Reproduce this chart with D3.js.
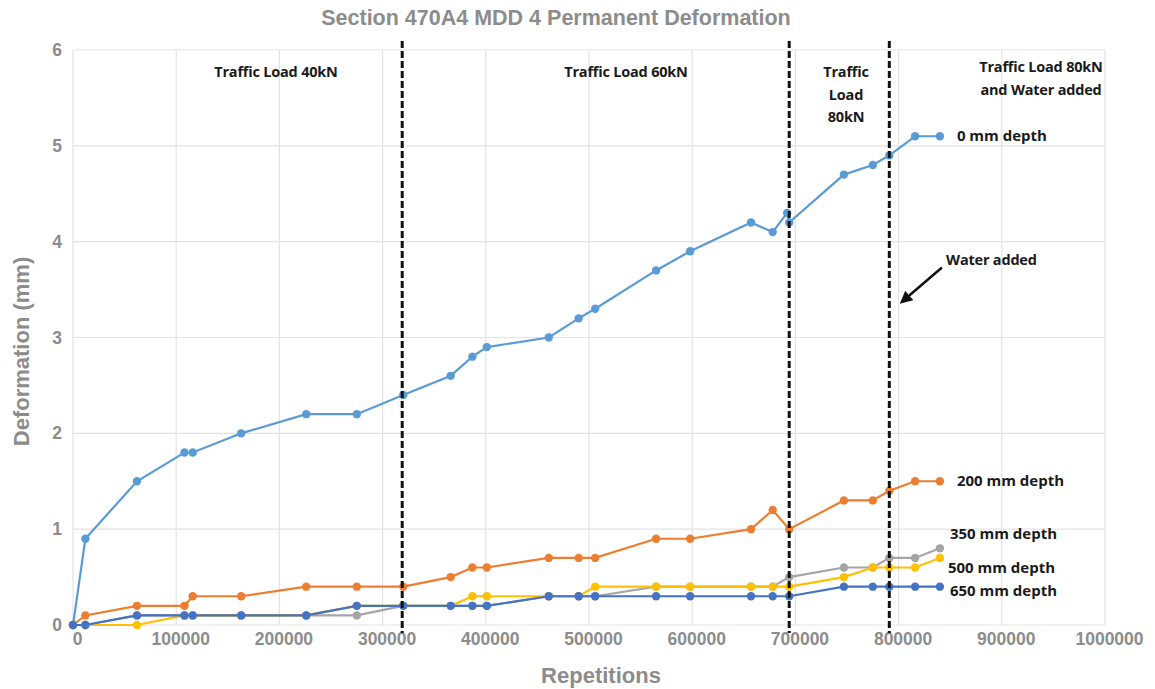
<!DOCTYPE html>
<html>
<head>
<meta charset="utf-8">
<script src="https://cdn.jsdelivr.net/npm/d3@7"></script>
<style>
  html, body { margin: 0; padding: 0; background: #ffffff; }
  svg { display: block; }
</style>
</head>
<body>
<svg id="chart" width="1155" height="689"></svg>
<script>
// Load repetitions at each reading (shared by all depths)
const repetitions = [0, 12000, 62000, 108000, 116000, 163000, 226000, 275000, 320000, 366000, 387000, 401000,
  461000, 490000, 506000, 565000, 598000, 657000, 678000, 692000, 694000, 747000, 775000, 791000, 816000, 840000];

// Permanent deformation (mm) per depth; null = no reading
const depth0 = [0, 0.9, 1.5, 1.8, 1.8, 2.0, 2.2, 2.2, 2.4, 2.6, 2.8, 2.9, 3.0, 3.2, 3.3, 3.7, 3.9, 4.2, 4.1, 4.3, 4.2, 4.7, 4.8, 4.9, 5.1, 5.1];
const depth200 = [0, 0.1, 0.2, 0.2, 0.3, 0.3, 0.4, 0.4, 0.4, 0.5, 0.6, 0.6, 0.7, 0.7, 0.7, 0.9, 0.9, 1.0, 1.2, null, 1.0, 1.3, 1.3, 1.4, 1.5, 1.5];
const depth350 = [0, 0, 0.1, 0.1, 0.1, 0.1, 0.1, 0.1, 0.2, 0.2, 0.2, 0.2, 0.3, 0.3, 0.3, 0.4, 0.4, 0.4, 0.4, null, 0.5, 0.6, 0.6, 0.7, 0.7, 0.8];
const depth500 = [0, 0, 0, 0.1, 0.1, 0.1, 0.1, 0.2, 0.2, 0.2, 0.3, 0.3, 0.3, 0.3, 0.4, 0.4, 0.4, 0.4, 0.4, null, 0.4, 0.5, 0.6, 0.6, 0.6, 0.7];
const depth650 = [0, 0, 0.1, 0.1, 0.1, 0.1, 0.1, 0.2, 0.2, 0.2, 0.2, 0.2, 0.3, 0.3, 0.3, 0.3, 0.3, 0.3, 0.3, null, 0.3, 0.4, 0.4, 0.4, 0.4, 0.4];

const seriesNames = ["0 mm depth", "200 mm depth", "350 mm depth", "500 mm depth", "650 mm depth"];
const seriesColors = ["#5b9bd5", "#ed7d31", "#a5a5a5", "#ffc000", "#4472c4"];
const seriesValues = [depth0, depth200, depth350, depth500, depth650];

// Load stage boundaries (repetitions)
const stageBreaks = [319000, 694000, 791000];
const xTicks = [0, 100000, 200000, 300000, 400000, 500000, 600000, 700000, 800000, 900000, 1000000];
const yTicks = [0, 1, 2, 3, 4, 5, 6];

const svg = d3.select("#chart");
const margin = { left: 73, right: 50, top: 50, bottom: 64 };
const W = 1155, H = 689;

const x = d3.scaleLinear().domain([0, 1000000]).range([margin.left, W - margin.right]);
const y = d3.scaleLinear().domain([0, 6]).range([H - margin.bottom, margin.top]);

// Gridlines
const grid = svg.append("g");
grid.selectAll("line.v").data(xTicks).join("line")
  .attr("x1", d => x(d)).attr("x2", d => x(d))
  .attr("y1", y(6)).attr("y2", y(0))
  .attr("stroke", "#e3e3e3").attr("stroke-width", 1.2);
grid.selectAll("line.h").data(yTicks).join("line")
  .attr("x1", x(0)).attr("x2", x(1000000))
  .attr("y1", d => y(d)).attr("y2", d => y(d))
  .attr("stroke", "#e3e3e3").attr("stroke-width", 1.2);

// Axes (labels only)
const tickFont = "'Liberation Sans', Arial, sans-serif";
const xAxis = svg.append("g").attr("transform", `translate(0,${y(0)})`)
  .call(d3.axisBottom(x).tickValues(xTicks).tickFormat(d3.format("d")).tickSize(0).tickPadding(8));
const yAxis = svg.append("g").attr("transform", `translate(${x(0)},0)`)
  .call(d3.axisLeft(y).tickValues(yTicks).tickFormat(d3.format("d")).tickSize(0).tickPadding(11));
[xAxis, yAxis].forEach(a => {
  a.select(".domain").remove();
  a.selectAll("text").attr("fill", "#8c8c8c").attr("font-family", tickFont)
    .attr("font-weight", "bold").attr("font-size", 17.5);
});
xAxis.selectAll("text").attr("dx", 4);

// Series lines and markers
const line = d3.line()
  .defined(d => d.v !== null)
  .x(d => x(d.r)).y(d => y(d.v));

seriesValues.forEach((vals, i) => {
  const pts = repetitions.map((r, j) => ({ r, v: vals[j] })).filter(p => p.v !== null);
  const g = svg.append("g");
  g.append("path").datum(pts)
    .attr("d", line).attr("fill", "none")
    .attr("stroke", seriesColors[i]).attr("stroke-width", 2.2);
  g.selectAll("circle").data(pts).join("circle")
    .attr("cx", d => x(d.r)).attr("cy", d => y(d.v)).attr("r", 4.2)
    .attr("fill", seriesColors[i]);
});

// Stage boundaries
svg.selectAll("line.stage").data(stageBreaks).join("line")
  .attr("x1", d => x(d)).attr("x2", d => x(d))
  .attr("y1", y(6) - 9).attr("y2", y(0) + 8)
  .attr("stroke", "#111").attr("stroke-width", 3)
  .attr("stroke-dasharray", "7,3");

// Title and axis titles
const titleFont = "'Liberation Sans', Arial, sans-serif";
svg.append("text").attr("x", 556).attr("y", 25).attr("text-anchor", "middle")
  .attr("font-family", titleFont).attr("font-weight", "bold").attr("font-size", 21.5)
  .attr("fill", "#8c8c8c").text("Section 470A4 MDD 4 Permanent Deformation");
svg.append("text").attr("x", (x(0) + x(1000000)) / 2 + 12).attr("y", 683).attr("text-anchor", "middle")
  .attr("font-family", titleFont).attr("font-weight", "bold").attr("font-size", 22)
  .attr("fill", "#8c8c8c").text("Repetitions");
svg.append("text").attr("transform", `translate(29,${(y(0) + y(6)) / 2 + 14}) rotate(-90)`)
  .attr("text-anchor", "middle")
  .attr("font-family", titleFont).attr("font-weight", "bold").attr("font-size", 22)
  .attr("fill", "#8c8c8c").text("Deformation (mm)");

// Stage annotations
const noteFont = "'Open Sans', 'Noto Sans', sans-serif";
function note(lines, cx, cy, size, anchor) {
  const t = svg.append("text").attr("x", cx).attr("y", cy)
    .attr("text-anchor", anchor || "middle")
    .attr("font-family", noteFont).attr("font-weight", "bold").attr("font-size", size)
    .attr("fill", "#1a1a1a").attr("letter-spacing", -0.2);
  lines.forEach((s, k) => t.append("tspan").attr("x", cx).attr("dy", k === 0 ? 0 : 22.5).text(s));
}
note(["Traffic Load 40kN"], 276, 77, 14.5);
note(["Traffic Load 60kN"], 626, 77, 14.5);
note(["Traffic", "Load", "80kN"], 846, 77, 14.5);
note(["Traffic Load 80kN", "and Water added"], 1041, 72, 14.5);

// Series labels at the end of each line
const endLabels = [
  { name: seriesNames[0], v: 5.1, dx: 17 },
  { name: seriesNames[1], v: 1.5, dx: 17 },
  { name: seriesNames[2], v: 0.95, dx: 10 },
  { name: seriesNames[3], v: 0.6, dx: 8 },
  { name: seriesNames[4], v: 0.35, dx: 10 }
];
const lastRep = repetitions[repetitions.length - 1];
endLabels.forEach(d => {
  svg.append("text").attr("x", x(lastRep) + d.dx).attr("y", y(d.v) + 5)
    .attr("font-family", noteFont).attr("font-weight", "bold").attr("font-size", 15)
    .attr("fill", "#1a1a1a").text(d.name);
});

// Water added callout
svg.append("defs").append("marker").attr("id", "arrowhead")
  .attr("viewBox", "0 0 10 10").attr("refX", 8).attr("refY", 5)
  .attr("markerWidth", 5).attr("markerHeight", 5).attr("orient", "auto")
  .append("path").attr("d", "M0,0 L10,5 L0,10 z").attr("fill", "#111");
svg.append("line")
  .attr("x1", x(842000)).attr("y1", y(3.73))
  .attr("x2", x(803000)).attr("y2", y(3.37))
  .attr("stroke", "#111").attr("stroke-width", 2.5)
  .attr("marker-end", "url(#arrowhead)");
svg.append("text").attr("x", x(846000)).attr("y", y(3.76))
  .attr("font-family", noteFont).attr("font-weight", "bold").attr("font-size", 14.5)
  .attr("fill", "#1a1a1a").attr("letter-spacing", -0.2).text("Water added");
</script>
</body>
</html>
